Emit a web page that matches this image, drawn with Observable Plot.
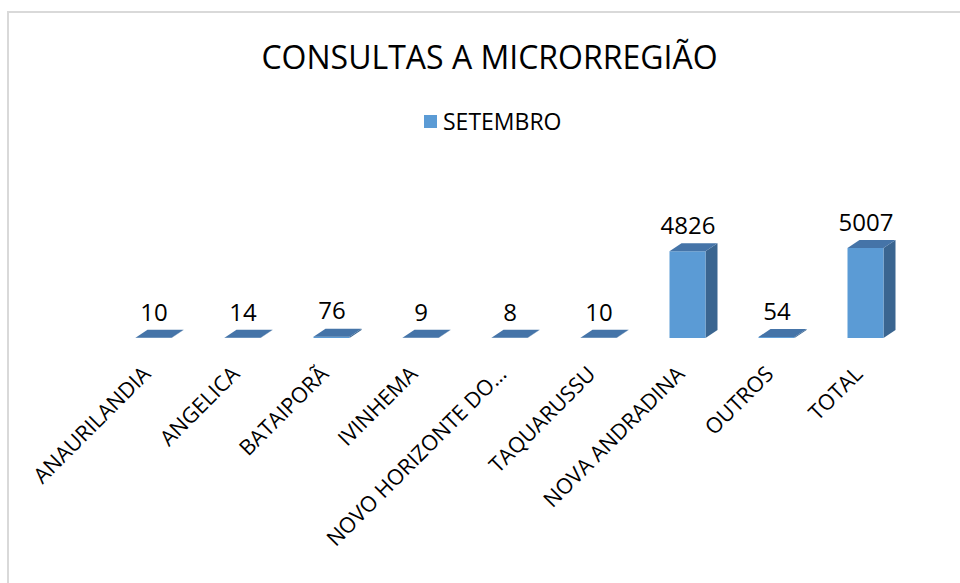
<!DOCTYPE html>
<html>
<head>
<meta charset="utf-8">
<script src="https://cdn.jsdelivr.net/npm/d3@7"></script>
<script src="https://cdn.jsdelivr.net/npm/@observablehq/plot@0.6"></script>
<style>
  body { margin: 0; background: #fff; }
  #chart { position: relative; width: 960px; height: 583px; overflow: hidden; font-family: "Open Sans", sans-serif; color: #000; }
  #frame { position: absolute; left: 7px; top: 11px; right: -10px; bottom: -10px; border-left: 2px solid #d9d9d9; border-top: 2px solid #d9d9d9; }
  #plot { position: absolute; left: 0; top: 0; }
  #title { position: absolute; left: 0; width: 979px; top: 40.6px; text-align: center; font-size: 32px; line-height: 1; white-space: nowrap; }
  #legend-swatch { position: absolute; left: 424px; top: 115px; width: 13px; height: 13px; }
  #legend-text { position: absolute; left: 443px; top: 109.6px; font-size: 23px; line-height: 1; white-space: nowrap; }
</style>
</head>
<body>
<div id="chart">
  <div id="frame"></div>
  <div id="plot"></div>
  <div id="title"></div>
  <div id="legend-swatch"></div>
  <div id="legend-text"></div>
</div>
<script>
// ---- data ----
const titleText = "CONSULTAS A MICRORREGIÃO";
const seriesName = "SETEMBRO";
const categories = ["ANAURILANDIA", "ANGELICA", "BATAIPORÃ", "IVINHEMA", "NOVO HORIZONTE DO…", "TAQUARUSSU", "NOVA ANDRADINA", "OUTROS", "TOTAL"];
const setembro = [10, 14, 76, 9, 8, 10, 4826, 54, 5007];

const data = categories.map((c, i) => ({ categoria: c, valor: setembro[i] }));

// ---- style ----
const frontColor = "#5B9BD5";
const topColor = "#4574A8";
const sideColor = "#3A6590";
const depthX = 12, depthY = 8;

document.getElementById("title").textContent = titleText;
document.getElementById("legend-text").textContent = seriesName;
document.getElementById("legend-swatch").style.background = frontColor;

function bars3d(index, scales, values, dimensions, context) {
  const g = d3.create("svg:g");
  const bw = typeof scales.x.bandwidth === "function" ? scales.x.bandwidth() : scales.x.bandwidth;
  for (const i of index) {
    const d = data[i];
    const x0 = scales.x(d.categoria), x1 = x0 + bw;
    const yb = scales.y(0), yt = scales.y(d.valor);
    g.append("path")
      .attr("d", `M${x1},${yt}L${x1 + depthX},${yt - depthY}L${x1 + depthX},${yb - depthY}L${x1},${yb}Z`)
      .attr("fill", sideColor);
    g.append("rect")
      .attr("x", x0).attr("y", yt).attr("width", bw).attr("height", Math.max(0, yb - yt))
      .attr("fill", frontColor);
    g.append("path")
      .attr("d", `M${x0},${yt}L${x0 + depthX},${yt - depthY}L${x1 + depthX},${yt - depthY}L${x1},${yt}Z`)
      .attr("fill", topColor);
  }
  return g.node();
}

const chart = Plot.plot({
  width: 960,
  height: 583,
  marginTop: 248,
  marginBottom: 245,
  marginLeft: 109,
  marginRight: 50,
  style: { fontFamily: "Open Sans, sans-serif", background: "transparent", color: "#000" },
  x: { domain: categories, paddingInner: 0.5955, paddingOuter: 0.29775, round: false, axis: null },
  y: { domain: [0, d3.max(setembro)], axis: null },
  marks: [
    Plot.barY(data, { x: "categoria", y: "valor", fill: frontColor, render: bars3d }),
    Plot.text(data, {
      x: "categoria", y: "valor", text: d => String(d.valor),
      dy: -25.4, fontSize: 24, lineAnchor: "middle", fill: "#000"
    }),
    Plot.text(data, {
      x: "categoria", frameAnchor: "bottom", text: "categoria",
      rotate: -45, textAnchor: "end", lineAnchor: "middle",
      dx: -7, dy: 32, fontSize: 21.5, fill: "#000"
    })
  ]
});
document.getElementById("plot").appendChild(chart);
</script>
</body>
</html>
